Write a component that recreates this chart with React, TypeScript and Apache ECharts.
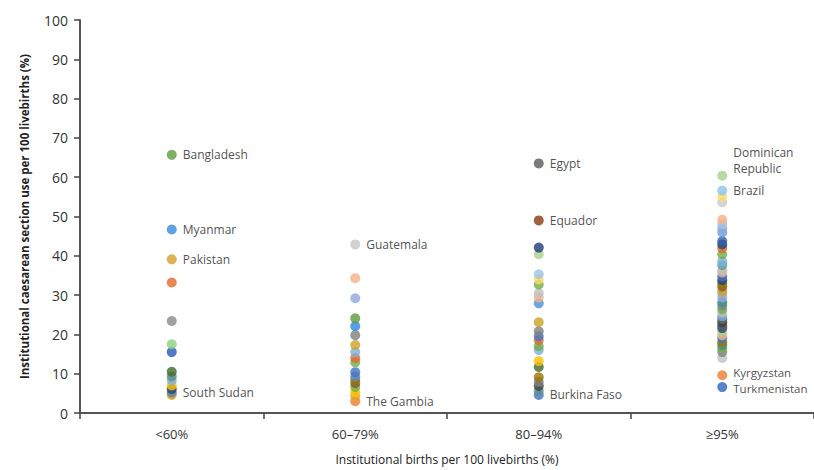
import React, { useEffect, useRef } from "react";
import * as echarts from "echarts";

const categories = ["<60%", "60–79%", "80–94%", "≥95%"];
const yTicks = [0, 10, 20, 30, 40, 50, 60, 70, 80, 90, 100];

const lt60Values = [65.7, 46.7, 39.1, 33.2, 23.4, 17.5, 15.5, 10.5, 9.3, 8.3, 7.0, 6.1, 5.2, 4.6];
const lt60Colors = ["#5E9C40", "#3A8CDB", "#D4A02A", "#E2692A", "#8A8A8A", "#8CD07E", "#2457B8", "#43682B", "#5F8F8F", "#7CAFDD", "#FFC000", "#264478", "#5B7F9B", "#D4A020"];
const lt60Labels = ["Bangladesh", "Myanmar", "Pakistan", "", "", "", "", "", "", "", "", "", "South Sudan", ""];

const mid1Values = [42.9, 34.3, 29.2, 24.1, 22.1, 19.8, 17.3, 15.5, 14.0, 12.9, 10.4, 9.3, 8.6, 7.6, 6.6, 5.3, 4.3, 3.0];
const mid1Colors = ["#C5C5C5", "#F4B183", "#8EA9DB", "#5B9B3A", "#2E86DE", "#7F7F7F", "#C9A227", "#7CAFDD", "#E2692A", "#70AD47", "#4472C4", "#5B8FCB", "#997300", "#8B5A2B", "#70AD47", "#FFC000", "#E0A030", "#ED7D31"];
const mid1Labels = ["Guatemala", "", "", "", "", "", "", "", "", "", "", "", "", "", "", "", "", "The Gambia"];

const mid2Values = [63.5, 49.0, 42.1, 40.4, 35.3, 34.0, 32.7, 30.5, 29.4, 27.9, 23.1, 20.8, 19.5, 18.5, 17.0, 16.0, 13.2, 11.7, 9.1, 7.9, 6.9, 5.6, 4.6];
const mid2Colors = ["#5A5A5A", "#8B3A0E", "#1F3B73", "#A9D18E", "#9DC3E6", "#FFD966", "#70AD47", "#BFBFBF", "#F4B183", "#4A90D9", "#C9A227", "#7F7F7F", "#4472C4", "#E2692A", "#70AD47", "#7CAFDD", "#FFC000", "#43682B", "#997300", "#7F7F7F", "#404040", "#5F8F8F", "#4472C4"];
const mid2Labels = ["Egypt", "Equador", "", "", "", "", "", "", "", "", "", "", "", "", "", "", "", "", "", "", "", "", "Burkina Faso"];

const hiValues = [60.4, 56.6, 55.1, 53.6, 49.2, 48.0, 47.0, 45.9, 43.7, 42.9, 41.9, 40.4, 38.6, 37.6, 36.3, 35.8, 34.8, 33.8, 33.0, 32.2, 31.2, 30.5, 29.4, 28.2, 27.4, 26.4, 25.6, 24.6, 23.9, 23.1, 22.3, 21.6, 20.6, 19.8, 19.0, 18.0, 17.3, 16.5, 15.5, 14.0, 9.6, 6.6];
const hiColors = ["#A9D18E", "#8CC4EC", "#FFD966", "#C9C9C9", "#F4B183", "#9DC3E6", "#8EA9DB", "#6F9AD8", "#2E5DAA", "#264478", "#E2692A", "#70AD47", "#7CAFDD", "#5F9EA0", "#BFBFBF", "#F4B183", "#4472C4", "#264478", "#997300", "#8B5A2B", "#C9A227", "#A5A5A5", "#8EA9DB", "#3F8F8F", "#7F7F7F", "#70AD47", "#BFBFBF", "#7CAFDD", "#636363", "#404040", "#595959", "#264478", "#A9D18E", "#F4B183", "#4472C4", "#997300", "#3F8F8F", "#70AD47", "#7F7F7F", "#BFBFBF", "#ED7D31", "#2E64C0"];
const hiLabels = ["Dominican\nRepublic", "Brazil", "", "", "", "", "", "", "", "", "", "", "", "", "", "", "", "", "", "", "", "", "", "", "", "", "", "", "", "", "", "", "", "", "", "", "", "", "", "", "Kyrgyzstan", "Turkmenistan"];

const groups = [
  { values: lt60Values, colors: lt60Colors, labels: lt60Labels },
  { values: mid1Values, colors: mid1Colors, labels: mid1Labels },
  { values: mid2Values, colors: mid2Colors, labels: mid2Labels },
  { values: hiValues, colors: hiColors, labels: hiLabels },
];

const FONT = "'Open Sans', sans-serif";
const tight = ["Kyrgyzstan", "Turkmenistan"];

function labelOffset(lbl: string): number[] {
  if (lbl.includes("\n")) return [0, -15];
  if (lbl === "Kyrgyzstan") return [0, -2.5];
  if (lbl === "Turkmenistan") return [0, 1.5];
  return [0, 0];
}

export default function App() {
  const ref = useRef<HTMLDivElement>(null);
  useEffect(() => {
    document.body.style.margin = "0";
    if (!ref.current) return;
    const chart = echarts.init(ref.current, null, { renderer: "svg" });
    const data: any[] = [];
    groups.forEach((g, ci) => {
      for (let i = g.values.length - 1; i >= 0; i--) {
        const lbl = g.labels[i];
        const multi = lbl.includes("\n");
        const item: any = {
          value: [ci, g.values[i]],
          name: lbl,
          itemStyle: { color: g.colors[i] },
        };
        if (lbl) {
          item.label = {
            show: true,
            formatter: lbl,
            position: "right",
            distance: 6,
            color: "#222",
            fontSize: tight.includes(lbl) ? 11.5 : 12,
            fontFamily: FONT,
            lineHeight: multi ? 16 : 12,
            offset: labelOffset(lbl),
          };
        }
        data.push(item);
      }
    });
    chart.setOption({
      animation: false,
      grid: { left: 80, right: 0, top: 20, bottom: 56, containLabel: false },
      xAxis: {
        type: "category",
        data: categories,
        boundaryGap: true,
        name: "Institutional births per 100 livebirths (%)",
        nameLocation: "middle",
        nameGap: 40,
        nameTextStyle: { fontSize: 12, color: "#222", fontFamily: FONT },
        axisLine: { lineStyle: { color: "#555", width: 2 } },
        axisTick: { show: true, length: 6, lineStyle: { color: "#444", width: 1.5 } },
        axisLabel: { fontSize: 13, color: "#333", margin: 14, fontFamily: FONT },
      },
      yAxis: {
        type: "value",
        min: 0,
        max: 100,
        interval: 10,
        name: "Institutional caesarean section use per 100 livebirths (%)",
        nameLocation: "middle",
        nameGap: 50,
        nameRotate: 90,
        nameTextStyle: { fontSize: 11.5, fontWeight: "bold", color: "#222", fontFamily: FONT },
        axisLine: { show: true, lineStyle: { color: "#555", width: 2 } },
        axisTick: { show: true, length: 6, lineStyle: { color: "#444", width: 1.5 } },
        axisLabel: {
          fontSize: 14,
          color: "#333",
          margin: 12,
          fontFamily: FONT,
          formatter: (v: number) => (yTicks.includes(v) ? String(v) : ""),
        },
        splitLine: { show: false },
      },
      series: [
        {
          type: "scatter",
          symbol: "circle",
          symbolSize: 10,
          data,
          label: { show: false },
        },
      ],
    });
    return () => chart.dispose();
  }, []);
  return <div ref={ref} style={{ width: 814, height: 470 }} />;
}
